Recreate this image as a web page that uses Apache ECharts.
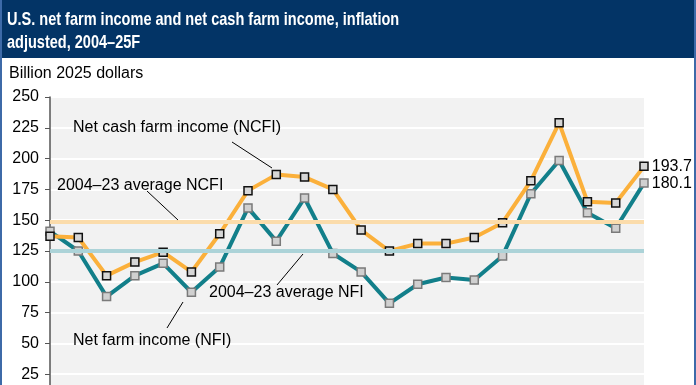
<!DOCTYPE html>
<html>
<head>
<meta charset="utf-8">
<script src="https://cdn.jsdelivr.net/npm/echarts@6/dist/echarts.min.js"></script>
<style>
html,body{margin:0;padding:0;background:#fff;width:696px;height:385px;overflow:hidden;}
#c{width:696px;height:430px;}
</style>
</head>
<body>
<div id="c"></div>
<script>
const years = ['2004','2005','2006','2007','2008','2009','2010','2011','2012','2013','2014','2015','2016','2017','2018','2019','2020','2021','2022','2023','2024','2025F'];
const ncfi = [137,136,105,116,124,108,139,174,187,185,175,142,125,131,131,136,148,182,229,165,164,193.7];
const nfi  = [141,125,88,105,115,91.5,112,160,133,168,123,108,82.5,98,103.5,101.5,121,171.5,198.5,156,143.5,180.1];
const avgNcfi = 148.8;
const avgNfi = 125.1;
const yTicks = [0,25,50,75,100,125,150,175,200,225,250];

const chart = echarts.init(document.getElementById('c'));
const FONT = "'Liberation Sans', Arial, sans-serif";

function withEndLabel(arr){
  return arr.map((v,i)=> i===arr.length-1 ? {value:v,label:{show:true,position:'right',distance:3,formatter:'{c}',fontSize:16,color:'#000',fontFamily:FONT}} : v);
}

const option = {
  animation:false,
  backgroundColor:'#fff',
  textStyle:{fontFamily:FONT},
  grid:{left:50,right:52,top:97,bottom:25,show:true,backgroundColor:'#f2f2f2',borderWidth:0,containLabel:false},
  xAxis:{type:'category',data:years,boundaryGap:false,show:false},
  yAxis:{type:'value',min:yTicks[0],max:yTicks[yTicks.length-1],interval:25,
    axisLine:{show:true,lineStyle:{color:'#555',width:1.5}},
    axisTick:{show:true,length:5,lineStyle:{color:'#555',width:1}},
    axisLabel:{fontSize:16,color:'#000',margin:11,fontFamily:FONT},
    splitLine:{show:true,lineStyle:{color:'#fff',width:2}}},
  series:[
    {type:'line',data:[],z:1,silent:true,
      markLine:{silent:true,symbol:'none',label:{show:false},
        data:[{yAxis:avgNcfi,lineStyle:{color:'#fbdcab',width:4,type:'solid'}},
              {yAxis:avgNfi,lineStyle:{color:'#acd3d8',width:4,type:'solid'}}]}},
    {name:'NFI',type:'line',data:withEndLabel(nfi),z:3,symbol:'rect',symbolSize:8,showAllSymbol:true,
      lineStyle:{color:'#127f8a',width:4},
      itemStyle:{color:'#d0d0d0',borderColor:'#7a7a7a',borderWidth:1.5}},
    {name:'NCFI',type:'line',data:withEndLabel(ncfi),z:4,symbol:'rect',symbolSize:8,showAllSymbol:true,
      lineStyle:{color:'#fbb03b',width:4},
      itemStyle:{color:'#d6d6d6',borderColor:'#111',borderWidth:1.5}}
  ],
  graphic:[
    {type:'rect',shape:{x:0,y:0,width:696,height:58},style:{fill:'#033466'},z:10},
    {type:'line',shape:{x1:1,y1:0,x2:1,y2:430},style:{stroke:'#3d6aa8',lineWidth:2},z:10},
    {type:'line',shape:{x1:695,y1:0,x2:695,y2:430},style:{stroke:'#3d6aa8',lineWidth:2},z:10},
    {type:'text',x:7,y:8,scaleX:0.785,z:11,style:{text:'U.S. net farm income and net cash farm income, inflation\nadjusted, 2004–25F',fill:'#fff',font:"bold 18.5px "+FONT,lineHeight:23}},
    {type:'text',left:9,top:66,z:11,style:{text:'Billion 2025 dollars',fill:'#000',font:"16px "+FONT}},
    {type:'text',left:73,top:120,z:11,style:{text:'Net cash farm income (NCFI)',fill:'#000',font:"16px "+FONT}},
    {type:'line',shape:{x1:232,y1:142,x2:272,y2:168},style:{stroke:'#000',lineWidth:1},z:11},
    {type:'text',left:57,top:178,z:11,style:{text:'2004–23 average NCFI',fill:'#000',font:"16px "+FONT}},
    {type:'line',shape:{x1:147,y1:191,x2:178,y2:220},style:{stroke:'#000',lineWidth:1},z:11},
    {type:'text',left:209,top:285,z:11,style:{text:'2004–23 average NFI',fill:'#000',font:"16px "+FONT}},
    {type:'line',shape:{x1:277,y1:285,x2:303,y2:254},style:{stroke:'#000',lineWidth:1},z:11},
    {type:'text',left:73,top:333,z:11,style:{text:'Net farm income (NFI)',fill:'#000',font:"16px "+FONT}},
    {type:'line',shape:{x1:167,y1:328,x2:183,y2:302},style:{stroke:'#000',lineWidth:1},z:11}
  ]
};
chart.setOption(option);
</script>
</body>
</html>
